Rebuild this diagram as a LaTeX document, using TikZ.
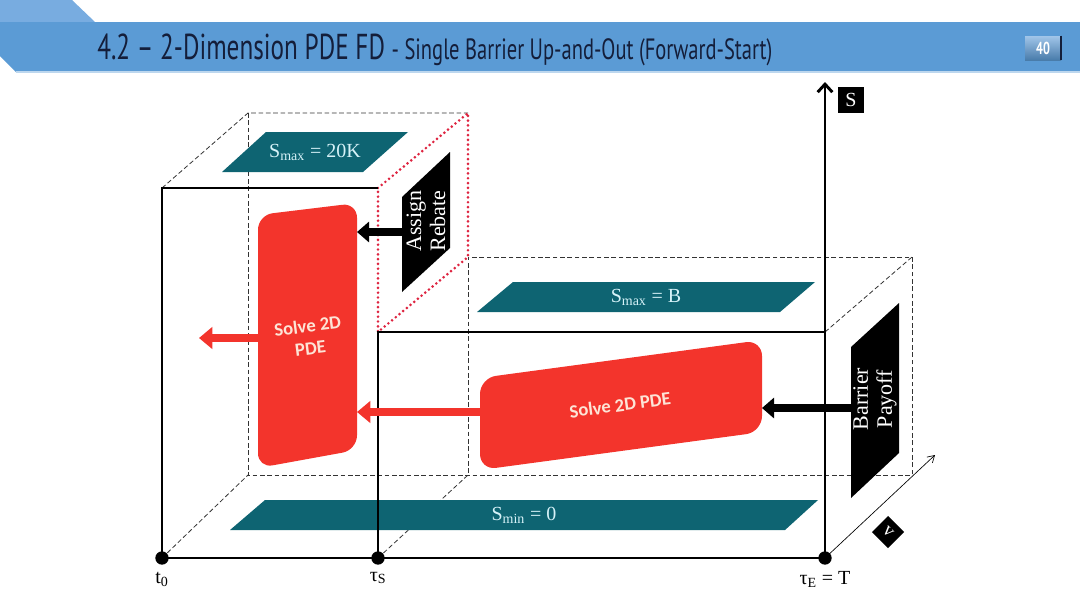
\documentclass[tikz,border=0pt]{standalone}
\usepackage{fontspec}
\setmainfont{Liberation Serif}
\newfontfamily\titlefont[FakeStretch=0.7]{PT Sans}
\newfontfamily\calfont{Carlito}
\usetikzlibrary{arrows.meta,positioning}

\definecolor{bandblue}{RGB}{91,155,213}
\definecolor{bevelblue}{RGB}{120,172,224}
\definecolor{titleink}{RGB}{20,30,58}
\definecolor{barteal}{RGB}{14,100,114}
\definecolor{barink}{RGB}{214,242,248}
\definecolor{pdered}{RGB}{243,52,44}
\definecolor{pdeink}{RGB}{253,228,214}
\definecolor{dotred}{RGB}{222,36,64}

\tikzset{
  solidedge/.style={line width=1.9pt, black},
  hiddenedge/.style={line width=0.6pt, black!80, dash pattern=on 3.5pt off 2pt},
  bartext/.style={text=barink, font=\fontsize{15}{17}\selectfont, inner sep=0pt},
  boxtext/.style={text=white, font=\fontsize{16.5}{18}\selectfont, align=center, rotate=90, inner sep=0pt},
  pdetext/.style={text=pdeink, font=\calfont\bfseries\fontsize{14}{17}\selectfont, align=center, inner sep=0pt},
  redarrow/.style={pdered, line width=6pt, -{Triangle[length=10pt,width=16pt]}},
  blackarrow/.style={black, line width=5.5pt, -{Triangle[length=9pt,width=15pt]}},
  timelabel/.style={font=\fontsize{15}{17}\selectfont, inner sep=0pt},
  timedot/.style={circle, fill=black, minimum size=10pt, inner sep=0pt}
}

\begin{document}
\begin{tikzpicture}[x=0.75pt,y=0.75pt,yscale=-1,xscale=1]
\useasboundingbox (0,0) rectangle (1080,608);

%Shape: Title band
\fill[bevelblue] (0,0) -- (72,0) -- (95,22) -- (0,22) -- cycle ;
\fill[bandblue] (0,22) -- (1080,22) -- (1080,72) -- (16,72) -- (0,56) -- cycle ;
\draw[white!60!bandblue, line width=0.8pt] (16,72) -- (1080,72) ;
% Text Node
\node[anchor=base west, inner sep=0pt, text=titleink] (title) at (97,59)
  {\titlefont\fontsize{27}{30}\selectfont 4.2 – 2-Dimension PDE FD\ \fontsize{22}{24}\selectfont - Single Barrier Up-and-Out (Forward-Start)};
%Shape: Page number
\node[top color=bevelblue!70!white, bottom color=bandblue!80!black, minimum width=27pt, minimum height=18pt, inner sep=0pt, text=white, font=\titlefont\bfseries\fontsize{13}{14}\selectfont] (pgno) at (1043,48) {40};
\draw[titleink, line width=1.2pt] (pgno.north east) -- (pgno.south east) ;

%Shape: Hidden edges
\draw[hiddenedge] (162,188) -- (248,113) -- (468,113) ;
\draw[hiddenedge] (248,113) -- (248,475) -- (912,475) -- (912,257) -- (468,257) -- (468,475) ;
\draw[hiddenedge] (162,558) -- (248,475) ;
\draw[hiddenedge] (378,558) -- (468,475) ;
\draw[hiddenedge] (825,332) -- (912,257) ;

%Shape: Rebate face
\draw[dotred, line width=2.2pt, line cap=round, dash pattern=on 0pt off 3.6pt] (378,188) -- (468,113) -- (468,257) -- (378,332) -- cycle ;

%Shape: Bars
\fill[barteal] (222,172) -- (266,132) -- (408,132) -- (363,172) -- cycle ;
\node[bartext] (smaxK) at (315,152) {S\textsubscript{max} = 20K};
\fill[barteal] (477,312) -- (513,282) -- (815,282) -- (780,312) -- cycle ;
\node[bartext] (smaxB) at (646,297) {S\textsubscript{max} = B};
\fill[barteal] (230,530) -- (265,500) -- (818,500) -- (785,530) -- cycle ;
\node[bartext] (smin) at (524,515) {S\textsubscript{min} = 0};

%Shape: Solid edges
\draw[solidedge] (162,558) -- (162,188) -- (378,188) ;
\draw[solidedge] (378,558) -- (378,332) -- (825,332) ;
\draw[solidedge] (162,558) -- (825,558) ;

%Shape: Boundary boxes
\fill[black] (402,197) -- (450,152) -- (450,248) -- (402,292) -- cycle ;
\node[boxtext] (rebate) at (426,221) {Assign\\Rebate};
\coordinate (rebate-w) at (403,232) ;
\fill[black] (851,347) -- (899,303) -- (899,453) -- (851,498) -- cycle ;
\node[boxtext] (payoff) at (875,399) {Barrier\\Payoff};
\coordinate (payoff-w) at (852,408) ;

%Shape: PDE blocks
\fill[pdered, rounded corners=11pt] (258,215) -- (357,203) -- (357,450) -- (258,468) -- cycle ;
\node[pdetext, rotate=7] (pdeFwd) at (309,337) {Solve 2D\\PDE};
\coordinate (pdeFwd-e) at (357,232) ;
\coordinate (pdeFwd-w) at (259,338) ;
\coordinate (pdeFwd-e2) at (357,412) ;
\fill[pdered, rounded corners=12pt] (480,378) -- (762,340) -- (762,432) -- (480,470) -- cycle ;
\node[pdetext, rotate=7.5] (pdeBar) at (620,405) {Solve 2D PDE};
\coordinate (pdeBar-e) at (762,408) ;
\coordinate (pdeBar-w) at (481,412) ;
\coordinate (out) at (199,338) ;

%Straight Lines: arrows
\draw[redarrow] (pdeFwd-w) -- (out) ;
\draw[redarrow] (pdeBar-w) -- (pdeFwd-e2) ;
\draw[blackarrow] (rebate-w) -- (pdeFwd-e) ;
\draw[blackarrow] (payoff-w) -- (pdeBar-e) ;

%Shape: Axes
\node[timedot] (t0) at (162,558) {};
\node[timedot] (tS) at (378,558) {};
\node[timedot] (tE) at (825,558) {};
\coordinate (Stop) at (825,82) ;
\coordinate (vtop) at (935,455) ;
\draw[black, line width=2.2pt, -{Straight Barb[length=6pt,width=11pt]}] (tE.center) -- (Stop) ;
\draw[black, line width=0.5pt, -{Straight Barb[length=5pt,width=6pt]}] (tE.center) -- (vtop) ;
\node[fill=black, text=white, minimum size=19pt, inner sep=0pt, font=\fontsize{15}{16}\selectfont] (Slab) at (851,100) {S};
\node[fill=black, text=white, minimum size=17pt, inner sep=0pt, rotate=-45, font=\fontsize{14}{15}\selectfont] (vlab) at (888,532) {v};

% Text Node
\node[timelabel, below=5pt of t0] {t\textsubscript{0}};
% Text Node
\node[timelabel, below=5pt of tS] {τ\textsubscript{S}};
% Text Node
\node[timelabel, below=5pt of tE] {τ\textsubscript{E} = T};

\end{tikzpicture}
\end{document}
